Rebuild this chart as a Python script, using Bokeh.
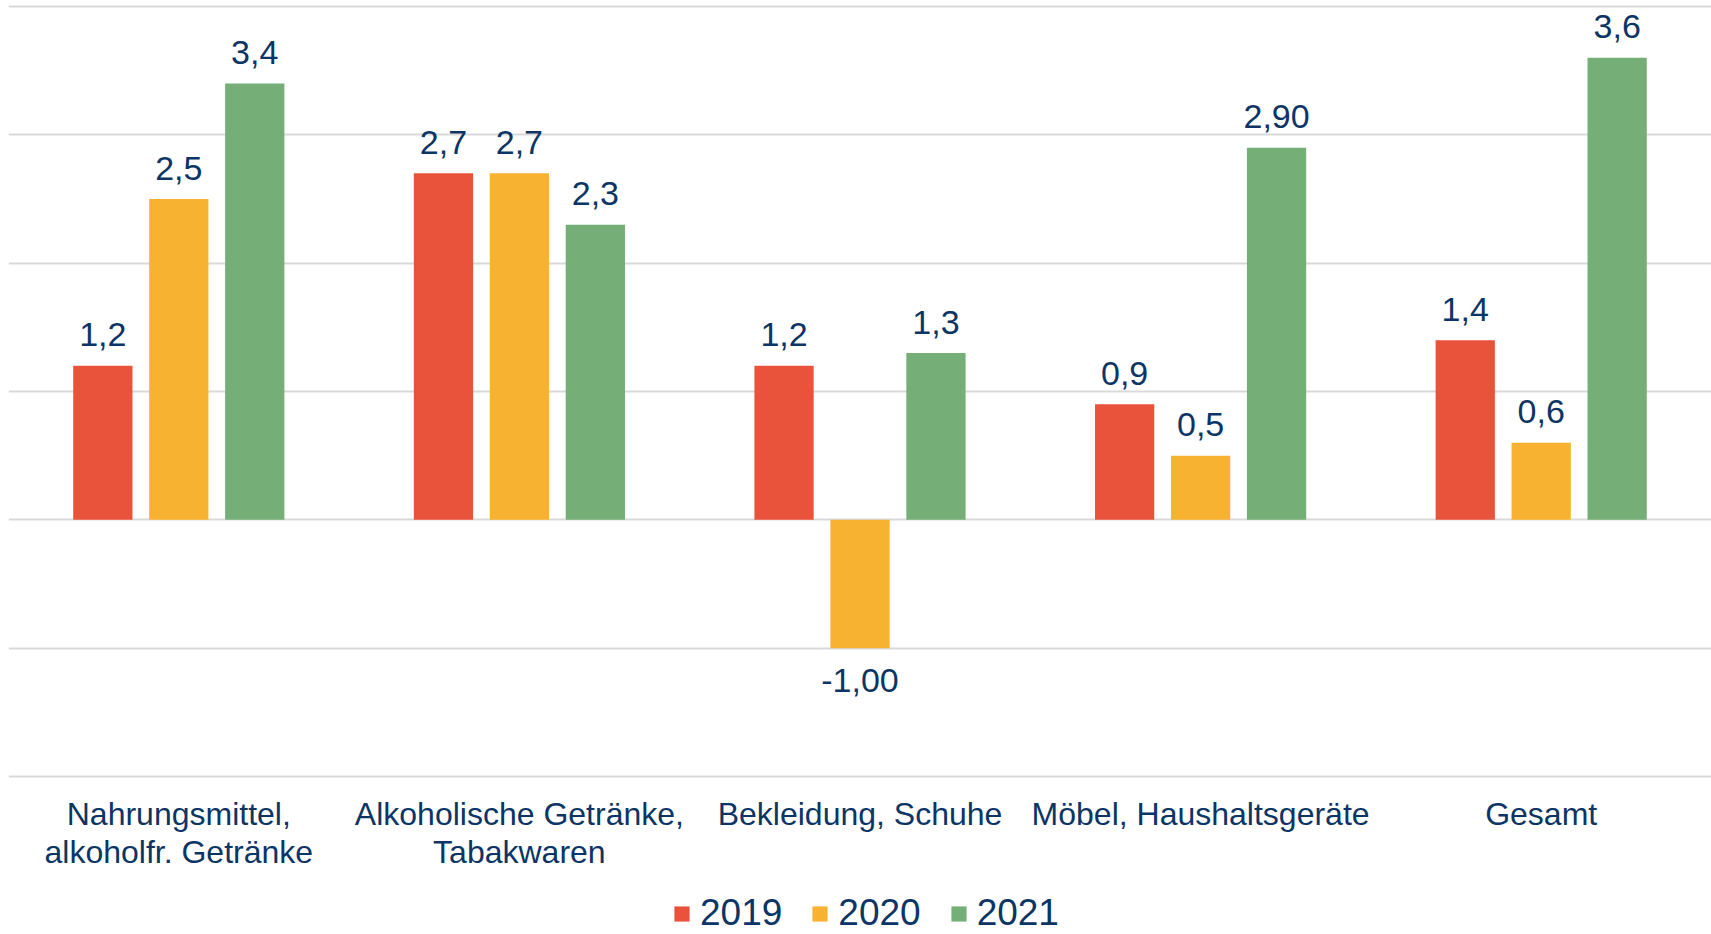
from bokeh.plotting import figure
from bokeh.models import (ColumnDataSource, FactorRange, Range1d, FixedTicker,
                          Legend, LegendItem)
from bokeh.transform import dodge
from bokeh.core.properties import value
from bokeh.embed import file_html
from bokeh.resources import INLINE

# ---------------- data ----------------
categories = [
    "Nahrungsmittel,\nalkoholfr. Getränke",
    "Alkoholische Getränke,\nTabakwaren",
    "Bekleidung, Schuhe",
    "Möbel, Haushaltsgeräte",
    "Gesamt",
]
years = ["2019", "2020", "2021"]
values_2019 = [1.2, 2.7, 1.2, 0.9, 1.4]
values_2020 = [2.5, 2.7, -1.0, 0.5, 0.6]
values_2021 = [3.4, 2.3, 1.3, 2.9, 3.6]
labels_2019 = ["1,2", "2,7", "1,2", "0,9", "1,4"]
labels_2020 = ["2,5", "2,7", "-1,00", "0,5", "0,6"]
labels_2021 = ["3,4", "2,3", "1,3", "2,90", "3,6"]
grid_ticks = [-2, -1, 0, 1, 2, 3, 4]

series = [
    (years[0], values_2019, labels_2019, "#EA533B", -0.223),
    (years[1], values_2020, labels_2020, "#F7B231", 0.0),
    (years[2], values_2021, labels_2021, "#75AF77", 0.223),
]

TEXT = "#0C3566"
FONT = "Liberation Sans"

p = figure(
    width=1711, height=934,
    x_range=FactorRange(*categories, range_padding=0),
    y_range=Range1d(-3.231, 4.047),
    output_backend="svg", toolbar_location=None,
    x_axis_location=None, y_axis_location=None,
    min_border_left=8, min_border_right=0, min_border_top=0,
    min_border_bottom=0,
)
p.outline_line_color = None
p.background_fill_color = "white"
p.border_fill_color = "white"

p.xgrid.visible = False
p.ygrid.ticker = FixedTicker(ticks=grid_ticks)
p.ygrid.grid_line_color = "#d9d9d9"
p.ygrid.grid_line_width = 2

# category labels, placed under the lowest grid line
cat_src = ColumnDataSource(dict(cat=categories, y=[min(grid_ticks)] * len(categories)))
p.text(x="cat", y="y", text="cat", source=cat_src,
       text_align="center", text_baseline="top", y_offset=19,
       text_font=value(FONT), text_font_size="32px",
       text_line_height=1.07, text_color=TEXT)

items = []
for name, vals, labs, color, off in series:
    src = ColumnDataSource(dict(cat=categories, val=vals))
    r = p.vbar(x=dodge("cat", off, range=p.x_range), top="val", width=0.174,
               source=src, fill_color=color, line_color=None)
    items.append(LegendItem(label=name, renderers=[r]))

    pos = [(c, v, t) for c, v, t in zip(categories, vals, labs) if v >= 0]
    neg = [(c, v, t) for c, v, t in zip(categories, vals, labs) if v < 0]
    for subset, yoff in ((pos, -31), (neg, 32)):
        if not subset:
            continue
        s = ColumnDataSource(dict(cat=[a[0] for a in subset],
                                  val=[a[1] for a in subset],
                                  txt=[a[2] for a in subset]))
        p.text(x=dodge("cat", off, range=p.x_range), y="val", text="txt", source=s,
               text_align="center", text_baseline="alphabetic", y_offset=yoff,
               text_font=value(FONT), text_font_size="34px",
               text_color=TEXT)

legend = Legend(
    items=items, orientation="horizontal", location=(664, 0),
    glyph_width=19, glyph_height=19, label_standoff=9, spacing=28,
    padding=0, margin=0, border_line_color=None, background_fill_alpha=0,
    label_text_font=FONT, label_text_font_size="37px",
    label_text_color=TEXT,
)
p.add_layout(legend, "center")

open("out.html", "w").write(file_html(p, INLINE))
